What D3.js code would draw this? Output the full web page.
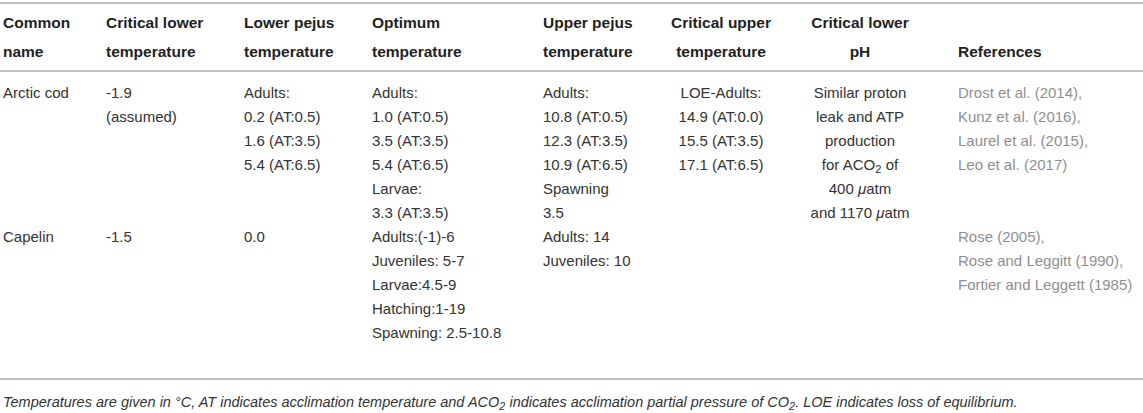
<!DOCTYPE html>
<html>
<head>
<meta charset="utf-8">
<script src="https://cdn.jsdelivr.net/npm/d3@7"></script>
<style>
  body { margin: 0; background: #fff; }
  svg text { font-family: "Liberation Sans", Arial, Helvetica, sans-serif; }
  .head { font-weight: bold; font-size: 15.5px; fill: #222; }
  .cell { font-size: 15px; fill: #333; }
  .ref { fill: #8f8f8f; }
  .caption { font-size: 14.5px; font-style: italic; fill: #333; }
  .rule { stroke: #c2c2c2; stroke-width: 2; }
</style>
</head>
<body>
<div id="table"></div>
<script>
// column keys and header lines
const columns = ['name', 'critLow', 'lowPejus', 'optimum', 'upPejus', 'critUp', 'lowPH', 'refs'];
const headers = [
  ['Common', 'name'],
  ['Critical lower', 'temperature'],
  ['Lower pejus', 'temperature'],
  ['Optimum', 'temperature'],
  ['Upper pejus', 'temperature'],
  ['Critical upper', 'temperature'],
  ['Critical lower', 'pH'],
  ['', 'References']
];

// rows: one list of text lines per column ("_2" = subscript, µ = italic)
const arcticCod = [
  ['Arctic cod'],
  ['-1.9', '(assumed)'],
  ['Adults:', '0.2 (AT:0.5)', '1.6 (AT:3.5)', '5.4 (AT:6.5)'],
  ['Adults:', '1.0 (AT:0.5)', '3.5 (AT:3.5)', '5.4 (AT:6.5)', 'Larvae:', '3.3 (AT:3.5)'],
  ['Adults:', '10.8 (AT:0.5)', '12.3 (AT:3.5)', '10.9 (AT:6.5)', 'Spawning', '3.5'],
  ['LOE-Adults:', '14.9 (AT:0.0)', '15.5 (AT:3.5)', '17.1 (AT:6.5)'],
  ['Similar proton', 'leak and ATP', 'production', 'for ACO_2 of', '400 µatm', 'and 1170 µatm'],
  ['Drost et al. (2014),', 'Kunz et al. (2016),', 'Laurel et al. (2015),', 'Leo et al. (2017)']
];
const capelin = [
  ['Capelin'],
  ['-1.5'],
  ['0.0'],
  ['Adults:(-1)-6', 'Juveniles: 5-7', 'Larvae:4.5-9', 'Hatching:1-19', 'Spawning: 2.5-10.8'],
  ['Adults: 14', 'Juveniles: 10'],
  [],
  [],
  ['Rose (2005),', 'Rose and Leggitt (1990),', 'Fortier and Leggett (1985)']
];
const rows = [arcticCod, capelin];

const caption = 'Temperatures are given in °C, AT indicates acclimation temperature and ACO_2 indicates acclimation partial pressure of CO_2. LOE indicates loss of equilibrium.';

const W = 1143, H = 413;
const svg = d3.select('#table').append('svg').attr('width', W).attr('height', H);

// column positions and anchors
const colX = d3.scaleOrdinal().domain(columns).range([3, 106, 244, 372, 543, 721, 860, 958]);
const colAnchor = d3.scaleOrdinal().domain(columns)
  .range(['start', 'start', 'start', 'start', 'start', 'middle', 'middle', 'start']);

// line index -> baseline
const headY = d3.scaleLinear().domain([0, 1]).range([28, 57]);
const bodyY = d3.scaleLinear().domain([0, 1]).range([98, 122]);

// write a line of text with subscripts and italic mu
function richText(sel, str) {
  str.split(/(_\d|µ)/).filter(s => s !== '').forEach(part => {
    if (part[0] === '_') {
      sel.append('tspan').attr('baseline-shift', '-25%').style('font-size', '0.75em').text(part.slice(1));
    } else if (part === 'µ') {
      sel.append('tspan').style('font-style', 'italic').text('\u03bc');
    } else {
      sel.append('tspan').text(part);
    }
  });
}

// rules
svg.selectAll('line.rule').data([3, 71, 379]).enter().append('line')
  .attr('class', 'rule')
  .attr('x1', 0).attr('x2', W)
  .attr('y1', d => d).attr('y2', d => d);

// header
const hg = svg.selectAll('g.hcol').data(headers).enter().append('g').attr('class', 'hcol');
hg.selectAll('text').data((d, i) => d.map((t, j) => ({ t, j, col: columns[i] }))).enter().append('text')
  .attr('class', 'head')
  .attr('x', d => colX(d.col))
  .attr('y', d => headY(d.j))
  .attr('text-anchor', d => colAnchor(d.col))
  .text(d => d.t);

// body
let offset = 0;
rows.forEach(row => {
  const n = d3.max(row, c => c.length);
  const g = svg.append('g');
  row.forEach((cell, i) => {
    g.selectAll(null).data(cell).enter().append('text')
      .attr('class', columns[i] === 'refs' ? 'cell ref' : 'cell')
      .attr('x', colX(columns[i]))
      .attr('y', (d, j) => bodyY(offset + j))
      .attr('text-anchor', colAnchor(columns[i]))
      .each(function(d) { richText(d3.select(this), d); });
  });
  offset += n;
});

// caption
svg.append('text').attr('class', 'caption')
  .attr('x', 3).attr('y', 407)
  .each(function() { richText(d3.select(this), caption); });
</script>
</body>
</html>
